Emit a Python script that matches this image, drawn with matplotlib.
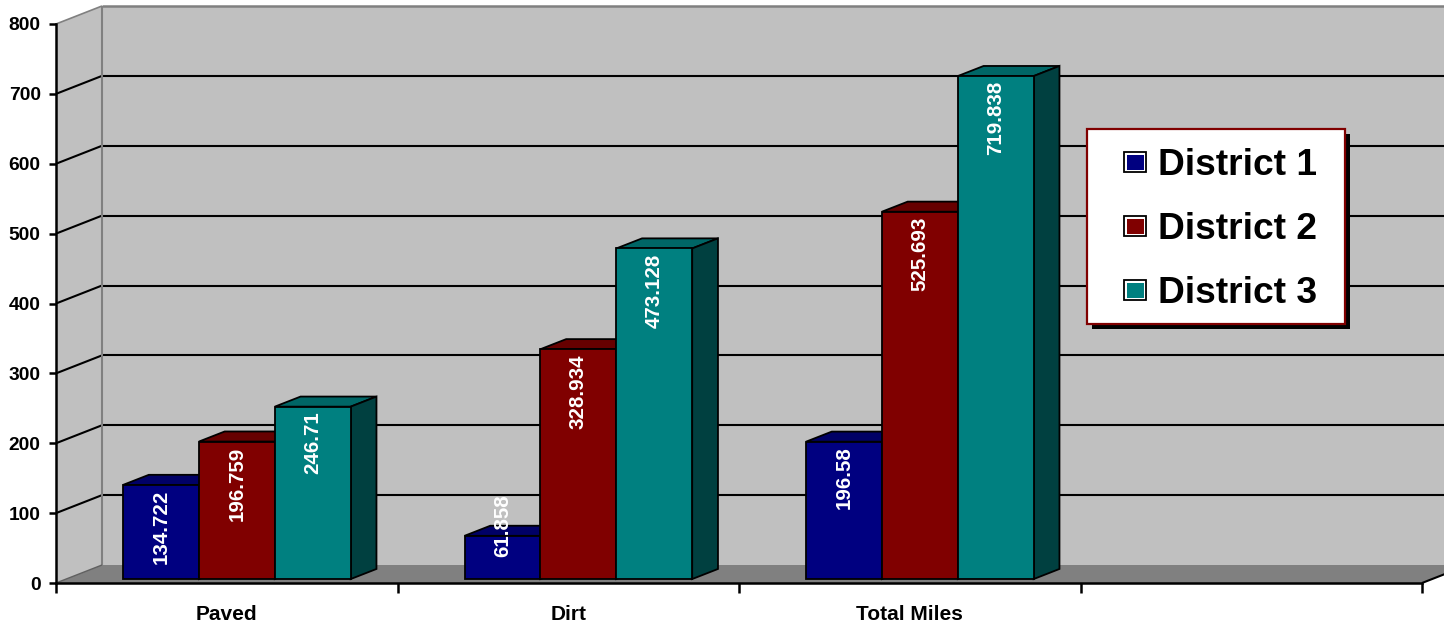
import matplotlib
matplotlib.use('Agg')
import matplotlib.pyplot as plt
import numpy as np
from matplotlib.patches import Polygon, Rectangle
from matplotlib.transforms import IdentityTransform, offset_copy

# data
categories = ['Paved', 'Dirt', 'Total Miles']
series_names = ['District 1', 'District 2', 'District 3']
district_1 = [134.722, 61.858, 196.58]
district_2 = [196.759, 328.934, 525.693]
district_3 = [246.71, 473.128, 719.838]
y_ticks = [0, 100, 200, 300, 400, 500, 600, 700, 800]

front_colors = ['#000080', '#800000', '#008080']
top_colors = ['#000066', '#660000', '#006666']
side_colors = ['#000040', '#400000', '#004040']

plt.rcParams['font.family'] = ['Liberation Sans', 'DejaVu Sans']
plt.rcParams['font.weight'] = 'bold'

W, H, DPI = 1444, 626, 100
DEPTH = np.array([46.0, 18.0])   # floor depth in px (right, up)
D0, D1 = 0.22, 0.78              # bar front / back as fraction of depth
n_slots = 4                      # excel keeps an empty 4th slot
bw = 1 / 4.5                     # gap width 150%
ymax = y_ticks[-1]

fig = plt.figure(figsize=(W / DPI, H / DPI), dpi=DPI)
fig.patch.set_facecolor('white')
ax = fig.add_axes([56 / W, (H - 583) / H, 1366 / W, 559 / H])
ax.set_xlim(0, n_slots)
ax.set_ylim(0, ymax)
ax.set_autoscale_on(False)
ax.patch.set_visible(False)

px_tr = IdentityTransform()


def px(x, y, d=0.0):
    return ax.transData.transform((x, y)) + d * DEPTH


def line(p, q, color='black', lw=1.5, z=1.2):
    ax.plot([p[0], q[0]], [p[1], q[1]], color=color, lw=lw,
            transform=px_tr, clip_on=False, zorder=z, solid_capstyle='butt')


# walls and floor
back_wall = [px(0, 0, 1), px(0, ymax, 1), px(n_slots, ymax, 1), px(n_slots, 0, 1)]
left_wall = [px(0, 0), px(0, ymax), px(0, ymax, 1), px(0, 0, 1)]
floor = [px(0, 0), px(n_slots, 0), px(n_slots, 0, 1), px(0, 0, 1)]
ax.add_patch(Polygon(back_wall, closed=True, fc='#C0C0C0', ec='none',
                     transform=px_tr, clip_on=False, zorder=1))
ax.add_patch(Polygon(left_wall, closed=True, fc='#C0C0C0', ec='none',
                     transform=px_tr, clip_on=False, zorder=1))
ax.add_patch(Polygon(floor, closed=True, fc='#808080', ec='none',
                     transform=px_tr, clip_on=False, zorder=1.1))

# gridlines on both walls
for v in y_ticks[1:-1]:
    line(px(0, v), px(0, v, 1))
    line(px(0, v, 1), px(n_slots, v, 1))

# wall edges
line(px(0, ymax, 1), px(n_slots, ymax, 1), color='#808080', lw=1.8)
line(px(0, ymax), px(0, ymax, 1), color='#808080', lw=1.2)
line(px(0, 0, 1), px(0, ymax, 1), color='#808080', lw=1.5)
line(px(0, 0), px(0, 0, 1), color='#606060', lw=1.0)
line(px(n_slots, 0), px(n_slots, 0, 1), color='black', lw=1.5)

# bars
front_tr = offset_copy(ax.transData, fig=fig, x=D0 * DEPTH[0], y=D0 * DEPTH[1], units='dots')
label_tr = offset_copy(ax.transData, fig=fig, x=D0 * DEPTH[0], y=D0 * DEPTH[1] - 5, units='dots')
short_tr = offset_copy(ax.transData, fig=fig, x=D0 * DEPTH[0], y=D0 * DEPTH[1] + 22, units='dots')
series = [district_1, district_2, district_3]
xs = np.arange(len(categories))
for j, vals in enumerate(series):
    lefts = xs + 0.75 * bw + j * bw
    z = 3 + 2 * j
    for x0, v in zip(lefts, vals):
        x1 = x0 + bw
        top = [px(x0, v, D0), px(x1, v, D0), px(x1, v, D1), px(x0, v, D1)]
        side = [px(x1, 0, D0), px(x1, v, D0), px(x1, v, D1), px(x1, 0, D1)]
        ax.add_patch(Polygon(top, closed=True, fc=top_colors[j], ec='black', lw=1.3,
                             transform=px_tr, clip_on=False, zorder=z))
        ax.add_patch(Polygon(side, closed=True, fc=side_colors[j], ec='black', lw=1.3,
                             transform=px_tr, clip_on=False, zorder=z))
    ax.bar(lefts, vals, width=bw, align='edge', color=front_colors[j],
           edgecolor='black', linewidth=1.3, transform=front_tr, zorder=z + 1,
           clip_on=False)
    for x0, v in zip(lefts, vals):
        if v < 100:
            ax.text(x0 + bw / 2, 0, f'{v:g}', transform=short_tr, rotation=90,
                    ha='center', va='bottom', color='white', fontsize=14.8,
                    fontweight='bold', zorder=20)
        else:
            ax.text(x0 + bw / 2, v, f'{v:g}', transform=label_tr, rotation=90,
                    ha='center', va='top', color='white', fontsize=14.8,
                    fontweight='bold', zorder=20)

# axes
for s in ['top', 'right']:
    ax.spines[s].set_visible(False)
for s in ['left', 'bottom']:
    ax.spines[s].set_linewidth(1.8)
    ax.spines[s].set_zorder(2)
ax.set_yticks(y_ticks)
ax.tick_params(axis='y', length=5, width=1.8, pad=6, labelsize=13.8)
ax.set_xticks(np.arange(n_slots + 1))
ax.set_xticklabels([])
ax.tick_params(axis='x', which='major', length=7, width=1.8)
ax.set_xticks(xs + 0.5, minor=True)
ax.set_xticklabels(categories, minor=True, fontsize=15, fontweight='bold')
ax.tick_params(axis='x', which='minor', length=0, pad=16)

# legend box, drawn by hand to copy the excel look
lx0, lx1, ly_top, ly_bot = 1087, 1345, H - 129, H - 324
ax.add_patch(Rectangle((lx0 + 5, ly_bot - 5), lx1 - lx0, ly_top - ly_bot, fc='black',
                       ec='none', transform=px_tr, clip_on=False, zorder=30))
ax.add_patch(Rectangle((lx0, ly_bot), lx1 - lx0, ly_top - ly_bot, fc='white',
                       ec='#800000', lw=1.6, transform=px_tr, clip_on=False, zorder=31))
for j, name in enumerate(series_names):
    base = H - (175 + 64 * j)
    ax.add_patch(Rectangle((1124, base + 3), 22, 20, fc='white', ec='black',
                           lw=1.3, transform=px_tr, clip_on=False, zorder=32))
    ax.add_patch(Rectangle((1126.5, base + 5), 17, 15, fc=front_colors[j], ec='none',
                           transform=px_tr, clip_on=False, zorder=33))
    ax.text(1158, base, name, transform=px_tr, ha='left', va='baseline',
            fontsize=26.7, fontweight='bold', color='black', zorder=32)

fig.savefig('out.png', dpi=DPI, facecolor='white')
